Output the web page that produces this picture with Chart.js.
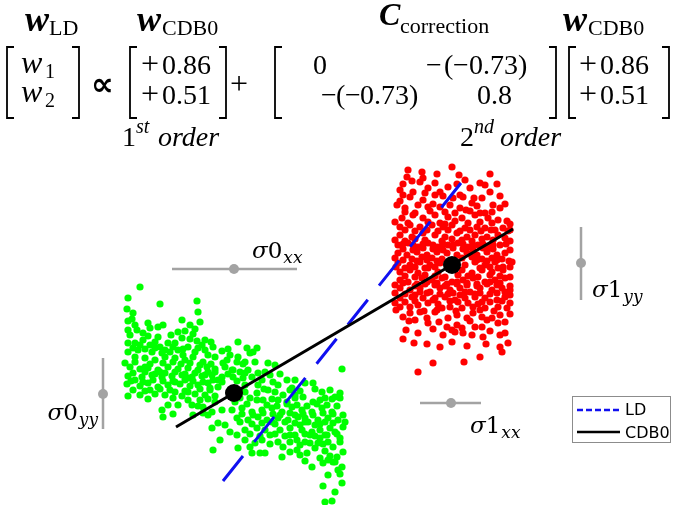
<!DOCTYPE html>
<html>
<head>
<meta charset="utf-8">
<script src="https://cdn.jsdelivr.net/npm/chart.js@4.4.0/dist/chart.umd.min.js"></script>
<style>
  html, body { margin: 0; padding: 0; background: #ffffff; }
  #wrap { position: relative; width: 676px; height: 505px; }
</style>
</head>
<body>
<div id="wrap"><canvas id="c" width="676" height="505"></canvas></div>
<script>
// ---- data (feature-space units, class-0 mean at the origin) ----
const class0Points = [
  [-9.4,10.6],[-10.6,9.5],[-7.4,8.9],[-3.7,9.2],[-10.7,8.4],[-10.1,8.0],[-3.6,8.1],[-10.6,7.2],[-10.2,7.4],[-8.6,7.0],[-5.2,7.3],[-3.4,7.1],
  [-10.6,6.3],[-9.7,6.3],[-8.4,6.5],[-7.6,6.6],[-5.6,6.1],[-4.9,6.2],[-3.9,6.4],[-10.4,5.8],[-8.6,5.7],[-7.6,5.6],[-5.2,5.5],[-4.4,5.4],[-3.7,5.2],[-2.9,5.3],
  [-10.6,5.0],[-9.9,5.0],[-9.4,4.8],[-8.4,4.8],[-7.4,4.6],[-6.6,5.0],[-5.9,5.0],[-4.6,4.6],[-3.2,4.8],[-1.2,4.2],
  [-10.6,4.1],[-9.6,4.3],[-8.2,4.1],[-7.2,4.0],[-6.4,4.1],[-5.6,4.3],[-3.9,4.1],[-2.9,4.3],[-2.6,3.8],
  [-9.9,3.6],[-8.9,3.5],[-7.9,3.3],[-6.9,3.6],[-5.9,3.5],[-4.9,3.3],[-4.1,3.6],[-1.9,3.6],[-0.7,3.3],[0.3,3.1],
  [-10.4,2.6],[-9.4,2.4],[-8.6,2.5],[-7.6,2.3],[-6.6,2.6],[-5.6,2.4],[-4.6,2.5],[-3.6,2.3],[-2.7,2.6],[-1.9,2.4],[-0.9,2.6],[-0.1,2.3],
  [-10.6,1.7],[-9.2,1.6],[-8.2,1.8],[-7.2,1.6],[-6.2,1.7],[-5.2,1.8],[-4.2,1.6],[-3.2,1.7],[-2.2,1.8],[-1.2,1.6],
  [-10.7,0.9],[-9.4,0.7],[-8.6,1.0],[-7.6,0.6],[-6.6,0.8],[-5.4,0.9],[-4.4,0.7],[-3.6,0.8],[-2.6,1.0],[-1.6,0.6],
  [-10.6,-0.3],[-9.4,-0.2],[-7.9,-0.1],[-6.9,-0.2],[-5.2,-0.3],[-3.9,-0.1],[-2.9,-0.2],[-1.9,-0.3],
  [-7.2,-1.7],[-5.6,-1.2],[-4.2,-1.2],[-3.1,-1.4],[-2.2,-1.9],[-7.1,-2.4],[-4.1,-2.2],
  [-2.9,1.8],[-1.9,2.1],[-1.2,1.1],[-2.4,0.5],[-3.4,-0.7],[-1.9,-0.9],[-1.2,-1.7],[-2.6,-2.2],[-0.9,-3.2],[-2.2,-3.5],[-0.4,-3.9],[-1.4,-4.7],[0.1,-0.9],
  [-2.1,-5.7],[1.8,-6.0],[2.6,-6.0],
  [0.4,5.1],[1.3,4.5],[1.6,4.0],[1.9,4.1],[-0.4,3.8],[0.4,3.6],[1.1,3.1],[3.4,3.0],[4.1,2.8],[10.8,2.4],
  [-0.2,2.3],[0.6,2.1],[1.4,2.3],[2.4,2.0],[-0.1,1.6],[0.9,1.5],[1.8,1.6],[2.8,1.3],
  [5.3,1.3],[5.8,0.5],[4.4,0.8],[7.1,1.0],[7.9,1.0],[8.8,0.1],[10.6,0.0],
  [1.1,0.1],[2.3,0.0],[3.4,0.3],[4.1,0.1],[1.6,-0.5],[2.9,-0.7],[4.4,-0.7],[5.3,-0.9],[6.9,-0.4],[7.9,-0.9],[9.1,-0.5],[10.1,-0.4],
  [-0.2,-1.7],[0.8,-1.5],[1.8,-1.9],[2.8,-1.7],[3.8,-1.5],[4.8,-1.9],[5.8,-1.4],[6.8,-1.7],[7.8,-1.9],[8.8,-1.5],[9.8,-1.9],
  [0.3,-2.5],[1.4,-2.7],[2.4,-2.4],[3.3,-2.7],[4.4,-2.5],[5.4,-2.7],[6.4,-2.4],[7.4,-2.9],[8.4,-2.7],[9.4,-2.5],[10.4,-2.7],[10.9,-3.4],
  [1.1,-3.7],[2.3,-3.5],[3.1,-3.7],[4.6,-3.7],[5.6,-3.5],[6.8,-3.7],[7.8,-3.9],[8.6,-3.7],[9.1,-4.2],[10.1,-3.9],[10.6,-4.5],
  [1.1,-4.7],[2.8,-4.7],[4.4,-4.9],[4.9,-5.4],[6.3,-4.7],[7.1,-4.9],[8.4,-5.0],[9.4,-4.9],[9.9,-5.4],
  [0.4,-5.5],[1.6,-5.4],[3.1,-6.0],[4.8,-6.4],[6.3,-5.7],[6.6,-6.2],[8.6,-6.5],[9.6,-6.3],[10.3,-6.4],
  [7.8,-7.4],[8.9,-7.0],[9.9,-6.9],[10.8,-7.4],[10.4,-7.7],
  [8.9,-9.3],[10.8,-9.0],[10.1,-9.9],[9.1,-10.9],[9.8,-10.8],
  [6.1,-2.2],[7.1,-2.5],[8.1,-3.2],[9.1,-2.9],[6.6,-3.2],[7.6,-4.2],[9.6,-3.5],[5.6,-4.2],[8.6,-4.5],[6.6,-5.2],[8.1,-5.5],[5.1,-2.9],
  [-9.1,5.3],[-7.9,5.1],[-6.9,4.3],[-5.1,3.8],[-8.9,2.6],[-7.4,2.1],[-6.1,1.2],[-4.6,1.5],[-3.4,2.8],[-2.1,1.3],[-8.4,0.3],[-5.9,0.1],[-9.9,1.3],[-4.6,0.1],
  [1.1,0.8],[2.4,0.8],[3.6,1.8],[4.9,-0.2],[6.1,-0.2],
  [-9.9,6.8],[-7.1,6.8],[-4.4,6.8],[-9.1,6.0],[-6.3,5.8],[-4.1,5.9],[-2.3,5.1],
  [-10.1,4.5],[-8.9,4.4],[-7.9,4.5],[-6.1,4.6],[-5.1,4.4],[-3.6,4.5],[-2.1,4.6],[-0.6,4.4],[2.3,4.5],
  [-10.9,3.0],[-9.9,3.1],[-8.4,2.9],[-7.1,3.0],[-6.1,3.1],[-5.3,2.9],[-4.4,3.0],[-3.1,3.1],[-2.3,2.9],[-1.1,3.0],[0.9,2.9],[2.1,3.1],
  [-10.1,2.0],[-8.9,2.1],[-7.9,1.9],[-6.9,2.0],[-5.9,2.1],[-4.9,1.9],[-3.9,2.0],[-2.6,2.1],[-0.6,1.9],[1.1,2.0],[3.1,2.1],[4.6,1.9],
  [-10.3,1.2],[-9.1,1.1],[-8.1,1.3],[-7.1,1.2],[-5.9,1.1],[-4.9,1.3],[-4.1,1.2],[-3.1,1.1],[-1.6,1.3],[0.3,1.2],[3.9,1.1],[6.1,1.3],
  [-10.1,0.3],[-8.9,0.2],[-7.4,0.4],[-6.4,0.3],[-4.9,0.2],[-3.4,0.4],[-2.4,0.3],[0.6,0.2],[3.0,0.4],[5.6,0.3],[6.6,0.2],[8.1,0.4],[9.6,0.3],
  [-8.6,-0.6],[-6.1,-0.5],[-4.6,-0.7],[-2.6,-0.6],[0.6,-0.5],[2.3,-0.7],[3.8,-0.6],[6.1,-0.5],[8.6,-0.7],[9.8,-0.6],[10.6,-0.5],
  [-6.6,-1.2],[-3.6,-1.3],[1.3,-1.1],[3.3,-1.2],[4.3,-1.3],[5.3,-1.1],[6.3,-1.2],[7.3,-1.3],[8.3,-1.1],[9.3,-1.2],[10.3,-1.3],
  [-6.1,-2.1],[-3.1,-2.0],[0.8,-2.1],[1.9,-2.2],[2.9,-2.0],[3.9,-2.1],[4.6,-2.2],[5.6,-2.0],[6.9,-2.1],[7.9,-2.2],[8.9,-2.0],[9.9,-2.1],[10.9,-2.2],
  [-1.6,-3.0],[0.6,-2.9],[1.8,-3.1],[2.8,-3.0],[3.8,-2.9],[4.1,-3.1],[6.1,-3.0],[7.1,-2.9],[8.6,-3.1],[9.9,-3.0],[11.1,-2.9],
  [0.3,-4.2],[1.6,-4.1],[2.6,-4.3],[3.6,-4.2],[4.1,-4.1],[5.1,-4.3],[6.1,-4.2],[7.1,-4.1],[8.1,-4.3],[9.3,-4.2],[10.3,-4.1],
  [2.1,-5.0],[3.6,-5.1],[5.6,-4.9],[7.6,-5.0],[8.9,-5.1],[10.6,-4.9],
  [5.6,-5.9],[7.3,-6.0],[9.1,-5.8],[10.9,-5.9],[7.1,-6.8],[9.4,-6.7],[10.1,-6.9],[9.4,-8.2],[10.6,-8.1]
];

const class1Points = [
  [17.4,22.3],[18.8,22.1],[21.8,22.6],[17.3,21.6],[18.9,21.5],[17.8,21.2],[18.6,21.1],[16.6,20.3],[19.4,20.5],[21.4,20.6],[23.6,20.5],
  [16.9,19.8],[19.1,20.0],[20.1,19.8],[26.6,19.7],[16.6,19.2],[18.9,19.3],[21.9,19.5],[23.8,19.0],[24.8,19.5],
  [17.1,18.5],[18.4,18.8],[19.4,18.6],[20.6,18.6],[22.6,18.5],[23.2,18.3],[25.1,18.0],[26.6,18.5],
  [16.8,17.5],[17.9,17.8],[18.9,17.5],[20.1,17.8],[21.4,17.6],[22.8,17.5],[24.1,17.8],[25.4,17.5],[26.4,17.3],[27.3,17.2],
  [16.6,16.6],[17.6,16.8],[18.6,16.6],[19.8,16.8],[20.9,16.6],[21.8,16.8],[23.1,16.5],[24.3,16.6],[25.1,16.5],[26.1,16.3],[26.9,16.5],
  [16.6,15.8],[17.8,15.6],[18.9,16.0],[20.1,15.8],[21.1,15.6],[22.3,16.0],[23.3,15.6],[24.1,15.8],[25.3,15.6],[26.4,15.8],[27.1,15.5],
  [16.4,14.8],[17.4,15.0],[18.4,14.6],[19.4,15.0],[20.4,14.6],[21.4,14.8],[22.4,15.0],[23.4,14.6],[24.4,14.8],[25.4,14.6],[26.6,14.8],
  [16.4,14.0],[17.3,13.8],[18.3,14.1],[19.3,13.8],[20.3,14.1],[21.3,14.0],[22.3,13.8],[23.3,14.0],[24.3,13.8],[25.3,14.1],[26.3,13.8],[27.1,14.0],
  [16.4,13.0],[17.6,12.8],[18.6,13.1],[19.6,12.8],[20.6,13.0],[23.1,12.8],[24.1,13.1],[25.1,12.8],[26.1,13.1],[26.9,12.6],
  [16.6,12.1],[17.6,12.3],[18.4,12.0],[19.4,12.5],[20.4,12.1],[22.8,12.3],[23.8,12.0],[24.8,12.3],[25.8,12.1],[26.9,12.3],
  [16.6,11.3],[17.4,11.1],[18.8,11.5],[19.8,11.3],[20.8,11.5],[21.8,11.1],[22.9,11.3],[23.9,11.5],[25.1,11.1],[26.1,11.3],[27.1,11.5],
  [16.6,10.5],[17.6,10.3],[18.6,10.5],[19.6,10.1],[20.6,10.5],[21.6,10.3],[22.6,10.5],[23.6,10.1],[24.6,10.5],[25.8,10.3],[26.8,10.5],
  [16.6,9.5],[17.8,9.6],[18.9,9.5],[20.1,9.5],[21.1,9.6],[22.1,9.3],[23.1,9.5],[24.1,9.6],[25.1,9.5],[26.3,9.3],[27.1,9.6],
  [16.6,8.6],[17.6,8.6],[18.4,8.8],[20.8,8.5],[21.6,8.6],[22.8,8.5],[23.9,8.6],[25.1,8.5],[26.4,8.6],[27.3,8.5],
  [16.9,7.6],[18.6,8.1],[19.3,7.5],[21.4,7.5],[22.3,7.8],[23.3,7.5],[24.8,7.6],[25.8,7.5],[26.6,7.8],
  [19.4,7.0],[21.3,6.6],[22.3,6.8],[22.8,6.5],[24.1,6.6],[24.8,6.6],[26.4,7.0],[27.1,7.1],
  [18.4,6.0],[20.9,5.8],[22.1,6.1],[22.9,6.0],[23.8,5.8],[24.9,5.6],[26.6,5.8],[27.1,6.0],
  [16.9,5.4],[19.3,4.9],[20.6,4.6],[23.3,4.7],[26.6,4.6],[24.6,3.6],[26.8,4.1],[18.4,2.1],
  [17.1,18.1],[18.1,18.0],[19.6,18.2],[21.1,18.1],[22.1,18.0],[23.6,18.2],[24.6,18.0],[25.8,18.1],
  [16.1,17.1],[17.4,17.0],[19.4,17.1],[20.6,17.0],[22.1,17.2],[23.4,17.0],[24.6,17.1],[25.8,17.0],
  [16.1,15.3],[17.1,15.2],[18.1,15.4],[19.1,15.3],[20.8,15.2],[21.8,15.4],[22.8,15.3],[23.8,15.2],[24.8,15.4],[25.9,15.3],[27.6,15.2],
  [16.9,14.4],[17.9,14.3],[18.9,14.5],[19.9,14.4],[20.9,14.3],[21.9,14.5],[22.9,14.4],[23.9,14.3],[24.9,14.5],[25.9,14.4],[27.6,14.3],
  [16.1,13.5],[17.8,13.4],[18.8,13.6],[19.8,13.5],[20.8,13.4],[22.8,13.5],[23.8,13.6],[24.8,13.4],[25.8,13.5],[26.8,13.4],
  [17.1,11.7],[18.1,11.6],[19.1,11.8],[20.1,11.7],[21.1,11.6],[22.4,11.8],[23.4,11.7],[24.4,11.6],[25.6,11.8],[26.6,11.7],[27.6,11.6],
  [16.1,10.8],[18.1,10.7],[19.1,10.9],[20.1,10.8],[21.1,10.7],[22.3,10.9],[23.3,10.8],[24.3,10.7],[25.3,10.9],[26.3,10.8],[27.6,10.7],
  [17.1,9.9],[18.1,9.8],[19.3,10.0],[21.4,9.9],[22.6,9.8],[24.6,10.0],[25.6,9.9],[27.6,9.8],
  [16.1,9.0],[17.1,9.1],[19.4,9.0],[20.4,8.9],[22.4,9.1],[23.4,9.0],[24.4,8.9],[25.6,9.1],[27.6,9.0],
  [17.6,8.0],[20.1,8.1],[23.9,8.0],[27.6,7.9],
  [17.9,20.1],[20.6,20.1],[22.6,19.8],[25.6,20.1],[20.1,21.0],[23.1,21.3],[25.1,20.8],
  [27.6,16.3],[27.8,13.1],[27.6,10.3],
  [17.1,16.3],[18.1,16.2],[19.3,16.3],[20.4,16.2],[21.4,16.3],[22.6,16.2],[23.6,16.3],[24.7,16.2],[25.7,16.3],[27.4,16.2],
  [16.9,14.9],[17.9,14.8],[18.9,14.9],[19.9,14.8],[20.9,14.9],[21.9,14.8],[22.9,14.9],[23.9,14.8],[24.9,14.9],[25.9,14.8],[27.2,14.9],
  [16.9,13.3],[18.3,13.2],[19.3,13.3],[20.3,13.2],[24.3,13.3],[25.3,13.2],[26.3,13.3],[27.5,13.2],
  [16.2,12.6],[17.1,12.5],[18.1,12.6],[19.1,12.5],[20.1,12.6],[24.6,12.5],[25.6,12.6],[26.4,12.5],[27.6,12.6],
  [16.9,11.0],[18.3,10.9],[19.3,11.1],[20.3,11.0],[21.3,10.9],[22.3,11.1],[23.3,11.0],[24.3,10.9],[25.6,11.1],[26.6,11.0],
  [16.1,10.0],[18.6,10.1],[20.6,9.9],[21.9,10.0],[23.1,10.1],[24.1,9.9],[26.3,10.0],[27.1,10.1],
  [18.1,9.2],[19.9,9.3],[21.6,9.2],[24.8,9.1],[26.8,9.2],
  [16.2,8.3],[19.0,8.2],[20.3,8.3],[22.2,8.2],[24.6,8.3],[26.0,8.2],
  [17.5,7.2],[18.1,7.3],[20.5,7.1],[23.6,7.2],[25.3,7.3],
  [17.2,6.3],[19.9,6.4],[21.8,6.3],[25.6,6.2],
  [18.0,5.0],[21.8,5.1],[25.2,4.9],[27.4,5.0],[19.9,3.0],[23.0,3.1],
  [16.3,18.8],[19.9,18.9],[21.6,18.8],[24.3,18.7],[25.9,18.8],[27.1,18.9],
  [17.6,19.6],[20.9,19.7],[22.9,19.6],[24.0,19.5],
  [16.9,20.9],[22.3,20.9],[24.6,21.0],[26.3,20.9],
  [20.3,21.9],[22.5,21.8],[25.6,21.9],[21.1,16.9],[27.6,16.9]
];

const classMeans = [[0, 0], [21.8, 12.8]];
const ldLine   = [[-1.1, -8.8], [22.7, 21.0]];
const cdb0Line = [[-5.8, -3.4], [27.9, 16.4]];

// spread bars: [low end, centre, high end]
const sigma0xxBar = [[-6.2, 12.4], [0, 12.4], [6.3, 12.4]];
const sigma0yyBar = [[-13.1, 3.5], [-13.1, -0.1], [-13.1, -3.6]];
const sigma1xxBar = [[18.6, -1.0], [21.7, -1.0], [24.7, -1.0]];
const sigma1yyBar = [[34.7, 16.6], [34.7, 13.0], [34.7, 9.3]];
const sigmaNames  = ['σ0', 'σ0', 'σ1', 'σ1'];
const sigmaSubs   = ['xx', 'yy', 'xx', 'yy'];

const xRange = [-23.4, 44.2];
const yRange = [-11.2, 39.3];

const legendLabels = ['LD', 'CDB0'];

// ---- helpers ----
const pts = arr => arr.map(p => ({ x: p[0], y: p[1] }));
const GREY = '#a3a3a3';
const SERIF = '"Liberation Serif", "Times New Roman", serif';

function barDataset(arr) {
  return {
    data: pts(arr), showLine: true, borderColor: GREY, borderWidth: 2.5,
    pointRadius: c => (c.dataIndex === 1 ? 5 : 0),
    pointBackgroundColor: GREY, pointBorderWidth: 0, order: 3
  };
}

function drawBracket(ctx, x, top, bottom, dir) {
  ctx.beginPath();
  ctx.moveTo(x + 7 * dir, top);
  ctx.lineTo(x, top);
  ctx.lineTo(x, bottom);
  ctx.lineTo(x + 7 * dir, bottom);
  ctx.stroke();
}

function drawEquation(ctx) {
  ctx.save();
  ctx.fillStyle = '#000';
  ctx.strokeStyle = '#000';
  ctx.lineWidth = 1.8;
  ctx.textBaseline = 'alphabetic';
  ctx.textAlign = 'left';
  const put = (s, x, y, font) => { ctx.font = font; ctx.fillText(s, x, y); };
  const headMain = `bold italic 36px ${SERIF}`;
  const headSub = `22px ${SERIF}`;
  const num = `28px ${SERIF}`;
  const mi = `italic 32px ${SERIF}`;

  // headings
  put('w', 25, 31, headMain);  put('LD', 49, 35, headSub);
  put('w', 137, 31, headMain); put('CDB0', 162, 35, headSub);
  put('C', 379, 25, `bold italic 32px ${SERIF}`); put('correction', 400, 33, headSub);
  put('w', 563, 31, headMain); put('CDB0', 588, 35, headSub);

  // brackets
  const top = 47, bot = 118;
  drawBracket(ctx, 7, top, bot, 1);   drawBracket(ctx, 79, top, bot, -1);
  drawBracket(ctx, 130, top, bot, 1); drawBracket(ctx, 226, top, bot, -1);
  drawBracket(ctx, 275, top, bot, 1); drawBracket(ctx, 556, top, bot, -1);
  drawBracket(ctx, 569, top, bot, 1); drawBracket(ctx, 669, top, bot, -1);

  const r1 = 74, r2 = 104;
  // left vector
  put('w', 21, r1 - 1, mi); put('1', 45, r1 + 4, `20px ${SERIF}`);
  put('w', 21, r2 - 2, mi); put('2', 45, r2 + 3, `20px ${SERIF}`);
  // proportional sign and plus
  put('∝', 91, 95, `bold 32px "DejaVu Sans", sans-serif`);
  put('+', 230, 94, `32px ${SERIF}`);
  // first-order vector
  put('+', 141, r1, `32px ${SERIF}`); put('0.86', 162, r1, num);
  put('+', 141, r2, `32px ${SERIF}`); put('0.51', 162, r2, num);
  // correction matrix
  put('0', 313, r1, num);
  put('−', 426, r1, num); put('(', 444, r1, num); put('−', 453, r1, num); put('0.73', 469, r1, num); put(')', 518, r1, num);
  put('−', 321, r2, num); put('(', 336, r2, num); put('−', 345, r2, num); put('0.73', 360, r2, num); put(')', 409, r2, num);
  put('0.8', 477, r2, num);
  // second vector
  put('+', 579, r1, `32px ${SERIF}`); put('0.86', 600, r1, num);
  put('+', 579, r2, `32px ${SERIF}`); put('0.51', 600, r2, num);

  // order captions
  put('1', 122, 146, num); put('st', 136, 133, `italic 20px ${SERIF}`); put('order', 158, 146, `italic 28px ${SERIF}`);
  put('2', 460, 146, num); put('nd', 474, 133, `italic 20px ${SERIF}`); put('order', 500, 146, `italic 28px ${SERIF}`);
  ctx.restore();
}

// label offsets (px) from each bar centre: [dx, dy, align]
const sigmaLabelPlacement = [[18, -11, 'left'], [-5, 26, 'right'], [19, 30, 'left'], [11, 34, 'left']];

const annotate = {
  id: 'annotate',
  afterDraw(chart) {
    const ctx = chart.ctx;
    const xs = chart.scales.x, ys = chart.scales.y;
    drawEquation(ctx);

    // sigma labels
    const bars = [sigma0xxBar, sigma0yyBar, sigma1xxBar, sigma1yyBar];
    ctx.save();
    ctx.fillStyle = '#000';
    ctx.textBaseline = 'alphabetic';
    const fSig = 'italic 23px "DejaVu Serif", serif';
    const fNum = '23px "DejaVu Serif", serif';
    const fSub = 'italic 17px "DejaVu Serif", serif';
    bars.forEach((bar, i) => {
      const cx = xs.getPixelForValue(bar[1][0]);
      const cy = ys.getPixelForValue(bar[1][1]);
      const [dx, dy, align] = sigmaLabelPlacement[i];
      const sym = sigmaNames[i].charAt(0), idx = sigmaNames[i].slice(1);
      ctx.font = fSig; const w1 = ctx.measureText(sym).width;
      ctx.font = fNum; const w2 = ctx.measureText(idx).width;
      ctx.font = fSub; const w3 = ctx.measureText(sigmaSubs[i]).width;
      let x = cx + dx;
      if (align === 'right') x -= (w1 + w2 + w3 + 1);
      const y = cy + dy;
      ctx.font = fSig; ctx.fillText(sym, x, y);
      ctx.font = fNum; ctx.fillText(idx, x + w1, y);
      ctx.font = fSub; ctx.fillText(sigmaSubs[i], x + w1 + w2 + 1, y + 5);
    });
    ctx.restore();

    // legend box
    ctx.save();
    const lx = 572.5, ly = 396.5, lw = 98, lh = 46;
    ctx.fillStyle = '#fff';
    ctx.fillRect(lx, ly, lw, lh);
    ctx.strokeStyle = '#8c8c8c';
    ctx.lineWidth = 1;
    ctx.strokeRect(lx, ly, lw, lh);
    const ld = chart.data.datasets[1], cdb = chart.data.datasets[2];
    const rows = [[ld, 410, 415], [cdb, 432, 438]];
    rows.forEach(([ds, yy, tb], k) => {
      ctx.beginPath();
      ctx.strokeStyle = ds.borderColor;
      ctx.lineWidth = 2.5;
      ctx.setLineDash(k === 0 ? [6, 3] : []);
      ctx.moveTo(577, yy); ctx.lineTo(620, yy);
      ctx.stroke();
      ctx.setLineDash([]);
      ctx.fillStyle = '#000';
      ctx.font = '16px "DejaVu Sans", sans-serif';
      ctx.fillText(legendLabels[k], 625, tb);
    });
    ctx.restore();
  }
};

new Chart(document.getElementById('c'), {
  type: 'scatter',
  data: {
    datasets: [
      { label: 'means', data: pts(classMeans), pointRadius: 9, backgroundColor: '#000', borderWidth: 0, order: 0 },
      { label: legendLabels[0], data: pts(ldLine), showLine: true, borderColor: '#1010f0', borderWidth: 3,
        borderDash: [32, 18], pointRadius: 0, order: 2 },
      { label: legendLabels[1], data: pts(cdb0Line), showLine: true, borderColor: '#000', borderWidth: 3,
        pointRadius: 0, order: 1 },
      barDataset(sigma0xxBar), barDataset(sigma0yyBar), barDataset(sigma1xxBar), barDataset(sigma1yyBar),
      { label: 'class 1', data: pts(class1Points), pointRadius: 3.6, backgroundColor: '#ff0000', borderWidth: 0, order: 5 },
      { label: 'class 0', data: pts(class0Points), pointRadius: 3.6, backgroundColor: '#00ff00', borderWidth: 0, order: 6 }
    ]
  },
  options: {
    responsive: false,
    animation: false,
    devicePixelRatio: 1,
    layout: { padding: 0, autoPadding: false },
    plugins: { legend: { display: false }, tooltip: { enabled: false } },
    scales: {
      x: { type: 'linear', min: xRange[0], max: xRange[1], display: false },
      y: { type: 'linear', min: yRange[0], max: yRange[1], display: false }
    }
  },
  plugins: [annotate]
});
</script>
</body>
</html>
